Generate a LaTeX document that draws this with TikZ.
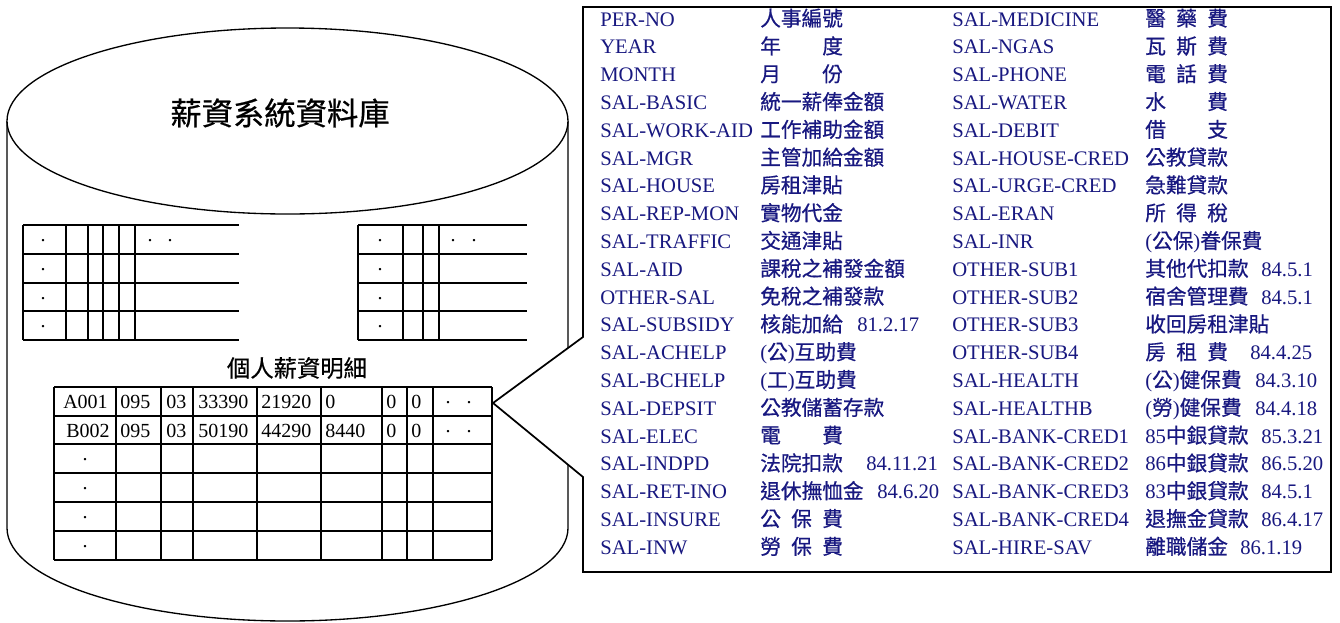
\documentclass[tikz,border=0pt]{standalone}
\usepackage{fontspec}
\setmainfont{Liberation Serif}
\newfontfamily\cjk{Noto Sans CJK TC}[FakeBold=0.6]
\newcommand\cj[1]{{\cjk #1}}
\newcommand\sprb[2]{{\cjk\hbox to 4em{#1\hfil #2}}}
\newcommand\sprc[3]{{\cjk\hbox to 4em{#1\hfil #2\hfil #3}}}
\definecolor{fieldblue}{RGB}{24,24,128}
\begin{document}
\begin{tikzpicture}[x=0.75pt,y=-0.75pt,
  cyl/.style={draw=black,line width=1pt},
  grid/.style={draw=black,line width=1.5pt},
  callout/.style={draw=black,line width=1.3pt,fill=white},
  fld/.style={anchor=base west,inner sep=0pt,text=fieldblue,font=\fontsize{15.5}{18}\selectfont},
  cell/.style={anchor=base west,inner sep=0pt,font=\fontsize{15}{18}\selectfont},
  cellc/.style={anchor=base,inner sep=0pt,font=\fontsize{15}{18}\selectfont},
  dotm/.style={anchor=base,inner sep=0pt,font=\fontsize{15}{18}\selectfont}]
\useasboundingbox (0,0) rectangle (1340,622);

% cylinder
\draw[cyl] (7,121) -- (7,528) .. controls (7,579.4) and (132.6,621) .. (287.5,621)
  .. controls (442.4,621) and (568,579.4) .. (568,528) -- (568,121);
\draw[cyl,fill=white] (7,121) .. controls (7,69.6) and (132.6,28) .. (287.5,28)
  .. controls (442.4,28) and (568,69.6) .. (568,121)
  .. controls (568,172.4) and (442.4,214) .. (287.5,214)
  .. controls (132.6,214) and (7,172.4) .. (7,121) -- cycle;
\node[font=\cjk\fontsize{23.5}{26}\selectfont] (title) at (280,113) {薪資系統資料庫};

% small left table
\foreach \y in {225,254,283,311,340} \draw[grid] (23,\y) -- (239,\y);
\foreach \x in {23,66,88,103,119,135} \draw[grid] (\x,225) -- (\x,340);
\foreach \y [count=\i] in {241.5,270.5,299,327.5} \node[dotm] (la\i) at (43,\y) {.};
\node[dotm] (lb1) at (150,241.5) {.};
\node[dotm] (lb2) at (170,241.5) {.};

% small right table
\foreach \y in {225,254,283,311,340} \draw[grid] (358,\y) -- (527,\y);
\foreach \x in {358,403,423,439} \draw[grid] (\x,225) -- (\x,340);
\foreach \y [count=\i] in {241.5,270.5,299,327.5} \node[dotm] (ra\i) at (380,\y) {.};
\node[dotm] (rb1) at (453,241.5) {.};
\node[dotm] (rb2) at (474,241.5) {.};

% detail table
\node[font=\cjk\fontsize{17.5}{20}\selectfont] (sub) at (297,368) {個人薪資明細};
\foreach \y in {387,416,444,473,502,531,560} \draw[grid] (54,\y) -- (492,\y);
\foreach \x in {54,116,161,193,257,321,382,407,433,492} \draw[grid] (\x,387) -- (\x,560);
\node[cellc] (a1) at (85.5,408.5) {A001};
\foreach \x/\t [count=\i] in {120/095,166/03,198/33390,261/21920,325/0,386/0,411/0}
  \node[cell] (a1c\i) at (\x,408.5) {\t};
\node[cellc] (b1) at (88,437) {B002};
\foreach \x/\t [count=\i] in {120/095,166/03,198/50190,261/44290,325/8440,386/0,411/0}
  \node[cell] (b1c\i) at (\x,437) {\t};
\foreach \y [count=\i] in {403.5,432} {
  \node[dotm] (e\i a) at (448,\y) {.};
  \node[dotm] (e\i b) at (469,\y) {.};
}
\foreach \y [count=\i] in {460.5,489.5,518.5,547.5} \node[dotm] (d\i) at (85,\y) {.};

% callout
\coordinate (ctop) at (583,337);
\coordinate (tip) at (493,403);
\coordinate (cbot) at (583,477);
\draw[callout] (583,7) -- (1331,7) -- (1331,572) -- (583,572) -- (cbot) -- (tip) -- (ctop) -- cycle;

% column 1
\foreach \n/\c [count=\i, evaluate=\i as \yb using 26+(\i-1)*27.8] in {
  PER-NO/{\cj{人事編號}},
  YEAR/{\sprb{年}{度}},
  MONTH/{\sprb{月}{份}},
  SAL-BASIC/{\cj{統一薪俸金額}},
  SAL-WORK-AID/{\cj{工作補助金額}},
  SAL-MGR/{\cj{主管加給金額}},
  SAL-HOUSE/{\cj{房租津貼}},
  SAL-REP-MON/{\cj{實物代金}},
  SAL-TRAFFIC/{\cj{交通津貼}},
  SAL-AID/{\cj{課稅之補發金額}},
  OTHER-SAL/{\cj{免稅之補發款}},
  SAL-SUBSIDY/{\cj{核能加給}},
  SAL-ACHELP/{(\cj{公})\cj{互助費}},
  SAL-BCHELP/{(\cj{工})\cj{互助費}},
  SAL-DEPSIT/{\cj{公教儲蓄存款}},
  SAL-ELEC/{\sprb{電}{費}},
  SAL-INDPD/{\cj{法院扣款}},
  SAL-RET-INO/{\cj{退休撫恤金}},
  SAL-INSURE/{\sprc{公}{保}{費}},
  SAL-INW/{\sprc{勞}{保}{費}}} {
  \node[fld] (n1-\i) at (600,\yb) {\n};
  \node[fld] (c1-\i) at (760,\yb) {\c};
}
\foreach \x/\r/\d in {857/12/81.2.17, 866/17/84.11.21, 877/18/84.6.20}
  \node[fld] (t1-\r) at (\x,{26+(\r-1)*27.8}) {\d};

% column 2
\foreach \n/\c [count=\i, evaluate=\i as \yb using 26+(\i-1)*27.8] in {
  SAL-MEDICINE/{\sprc{醫}{藥}{費}},
  SAL-NGAS/{\sprc{瓦}{斯}{費}},
  SAL-PHONE/{\sprc{電}{話}{費}},
  SAL-WATER/{\sprb{水}{費}},
  SAL-DEBIT/{\sprb{借}{支}},
  SAL-HOUSE-CRED/{\cj{公教貸款}},
  SAL-URGE-CRED/{\cj{急難貸款}},
  SAL-ERAN/{\sprc{所}{得}{稅}},
  SAL-INR/{(\cj{公保})\cj{眷保費}},
  OTHER-SUB1/{\cj{其他代扣款}},
  OTHER-SUB2/{\cj{宿舍管理費}},
  OTHER-SUB3/{\cj{收回房租津貼}},
  OTHER-SUB4/{\sprc{房}{租}{費}},
  SAL-HEALTH/{(\cj{公})\cj{健保費}},
  SAL-HEALTHB/{(\cj{勞})\cj{健保費}},
  SAL-BANK-CRED1/{85\cj{中銀貸款}},
  SAL-BANK-CRED2/{86\cj{中銀貸款}},
  SAL-BANK-CRED3/{83\cj{中銀貸款}},
  SAL-BANK-CRED4/{\cj{退撫金貸款}},
  SAL-HIRE-SAV/{\cj{離職儲金}}} {
  \node[fld] (n2-\i) at (952,\yb) {\n};
  \node[fld] (c2-\i) at (1145,\yb) {\c};
}
\foreach \x/\r/\d in {1261/10/84.5.1, 1261/11/84.5.1, 1250/13/84.4.25, 1255/14/84.3.10,
  1255/15/84.4.18, 1261/16/85.3.21, 1261/17/86.5.20, 1261/18/84.5.1, 1261/19/86.4.17, 1240/20/86.1.19}
  \node[fld] (t2-\r) at (\x,{26+(\r-1)*27.8}) {\d};
\end{tikzpicture}
\end{document}
